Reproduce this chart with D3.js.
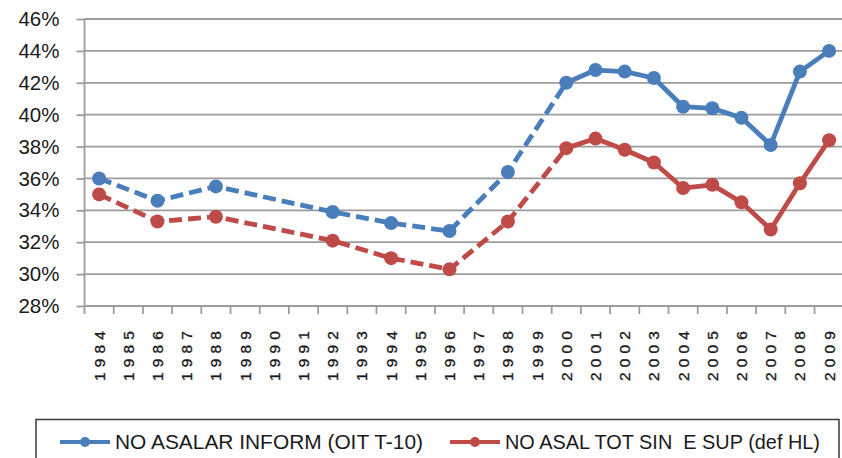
<!DOCTYPE html>
<html>
<head>
<meta charset="utf-8">
<script src="https://cdn.jsdelivr.net/npm/d3@7"></script>
<style>
  body { margin: 0; background: #fff; }
  text { font-family: "Liberation Sans", Arial, sans-serif; fill: #1a1a1a; white-space: pre; }
</style>
</head>
<body>
<div id="chart"></div>
<script>
// categories on the x axis (every year gets a slot)
var years = ["1984", "1985", "1986", "1987", "1988", "1989", "1990", "1991", "1992",
  "1993", "1994", "1995", "1996", "1997", "1998", "1999", "2000", "2001", "2002",
  "2003", "2004", "2005", "2006", "2007", "2008", "2009"];

// years that have data
var dataYears = ["1984", "1986", "1988", "1992", "1994", "1996", "1998", "2000", "2001",
  "2002", "2003", "2004", "2005", "2006", "2007", "2008", "2009"];

// series values (%)
var noAsalarInform = [36.0, 34.6, 35.5, 33.9, 33.2, 32.7, 36.4, 42.0, 42.8,
  42.7, 42.3, 40.5, 40.4, 39.8, 38.1, 42.7, 44.0];
var noAsalTot = [35.0, 33.3, 33.6, 32.1, 31.0, 30.3, 33.3, 37.9, 38.5,
  37.8, 37.0, 35.4, 35.6, 34.5, 32.8, 35.7, 38.4];

var yTicks = [28, 30, 32, 34, 36, 38, 40, 42, 44, 46];

// segments up to this year are drawn dashed
var dashedUntil = "2000";

var series = [
  { name: "NO ASALAR INFORM (OIT T-10)", values: noAsalarInform, color: "#4a7ebb" },
  { name: "NO ASAL TOT SIN  E SUP (def HL)", values: noAsalTot, color: "#be4b48" }
];

var svgWidth = 842;
var svgHeight = 458;

var svg = d3.select("#chart")
  .append("svg")
  .attr("width", svgWidth)
  .attr("height", svgHeight);

var xScale = d3.scaleBand()
  .domain(years)
  .range([84.5, 843.7])
  .padding(0);

var yScale = d3.scaleLinear()
  .domain([28, 46])
  .range([306, 19]);

var gridColor = "#9c9c9c";

// horizontal gridlines
svg.append("g")
  .selectAll("line")
  .data(yTicks)
  .enter()
  .append("line")
  .attr("x1", xScale.range()[0])
  .attr("x2", svgWidth)
  .attr("y1", d => yScale(d))
  .attr("y2", d => yScale(d))
  .attr("stroke", gridColor)
  .attr("stroke-width", 1.8);

// y axis
var leftAxis = d3.axisLeft(yScale)
  .tickValues(yTicks)
  .tickSize(8)
  .tickPadding(17)
  .tickFormat(d => d + "%");

var yAxis = svg.append("g")
  .attr("transform", `translate(${xScale.range()[0]}, 0)`)
  .call(leftAxis);

yAxis.select(".domain").remove();
yAxis.selectAll("line").attr("stroke", gridColor).attr("stroke-width", 1.8);
yAxis.selectAll("text")
  .attr("font-size", "20.5px")
  .attr("font-family", "'Liberation Sans', Arial, sans-serif")
  .attr("fill", "#1a1a1a");

svg.append("line")
  .attr("x1", xScale.range()[0])
  .attr("x2", xScale.range()[0])
  .attr("y1", yScale(46))
  .attr("y2", yScale(28))
  .attr("stroke", gridColor)
  .attr("stroke-width", 1.8);

// x axis: ticks sit between categories
svg.append("g")
  .selectAll("line")
  .data(years)
  .enter()
  .append("line")
  .attr("x1", d => xScale(d))
  .attr("x2", d => xScale(d))
  .attr("y1", yScale(28))
  .attr("y2", yScale(28) + 8)
  .attr("stroke", gridColor)
  .attr("stroke-width", 1.8);

// rotated year labels
svg.append("g")
  .selectAll("text")
  .data(years)
  .enter()
  .append("text")
  .attr("transform", d => `translate(${xScale(d) + xScale.bandwidth() / 2}, 331) rotate(-90)`)
  .attr("text-anchor", "end")
  .attr("dy", "0.36em")
  .attr("font-size", "15.5px")
  .attr("stroke", "#1a1a1a")
  .attr("stroke-width", 0.35)
  .attr("textLength", 50)
  .attr("lengthAdjust", "spacing")
  .text(d => d);

var cx = d => xScale(d) + xScale.bandwidth() / 2;

series.forEach(function(s) {
  var pts = dataYears.map((yr, i) => ({ year: yr, value: s.values[i] }));
  var cut = dataYears.indexOf(dashedUntil);

  var line = d3.line()
    .x(d => cx(d.year))
    .y(d => yScale(d.value));

  var g = svg.append("g");

  g.append("path")
    .datum(pts.slice(0, cut + 1))
    .attr("d", line)
    .attr("fill", "none")
    .attr("stroke", s.color)
    .attr("stroke-width", 4.8)
    .attr("stroke-dasharray", "13,6");

  g.append("path")
    .datum(pts.slice(cut))
    .attr("d", line)
    .attr("fill", "none")
    .attr("stroke", s.color)
    .attr("stroke-width", 4.8)
    .attr("stroke-linejoin", "round");

  g.selectAll("circle")
    .data(pts)
    .enter()
    .append("circle")
    .attr("cx", d => cx(d.year))
    .attr("cy", d => yScale(d.value))
    .attr("r", 7)
    .attr("fill", s.color);
});

// legend
var legend = svg.append("g");

legend.append("rect")
  .attr("x", 36)
  .attr("y", 419.5)
  .attr("width", 803)
  .attr("height", 60)
  .attr("fill", "#fff")
  .attr("stroke", "#3a3a3a")
  .attr("stroke-width", 1.5);

var legendX = [60, 450];
var legendTextLen = [308, 315];

series.forEach(function(s, i) {
  var item = legend.append("g")
    .attr("transform", `translate(${legendX[i]}, 442)`);

  item.append("line")
    .attr("x1", 0)
    .attr("x2", 50)
    .attr("stroke", s.color)
    .attr("stroke-width", 4);

  item.append("circle")
    .attr("cx", 25)
    .attr("r", 5)
    .attr("fill", s.color);

  item.append("text")
    .attr("x", 55)
    .attr("dy", "0.35em")
    .attr("font-size", "20.5px")
    .attr("textLength", legendTextLen[i])
    .attr("lengthAdjust", "spacingAndGlyphs")
    .text(s.name);
});
</script>
</body>
</html>
